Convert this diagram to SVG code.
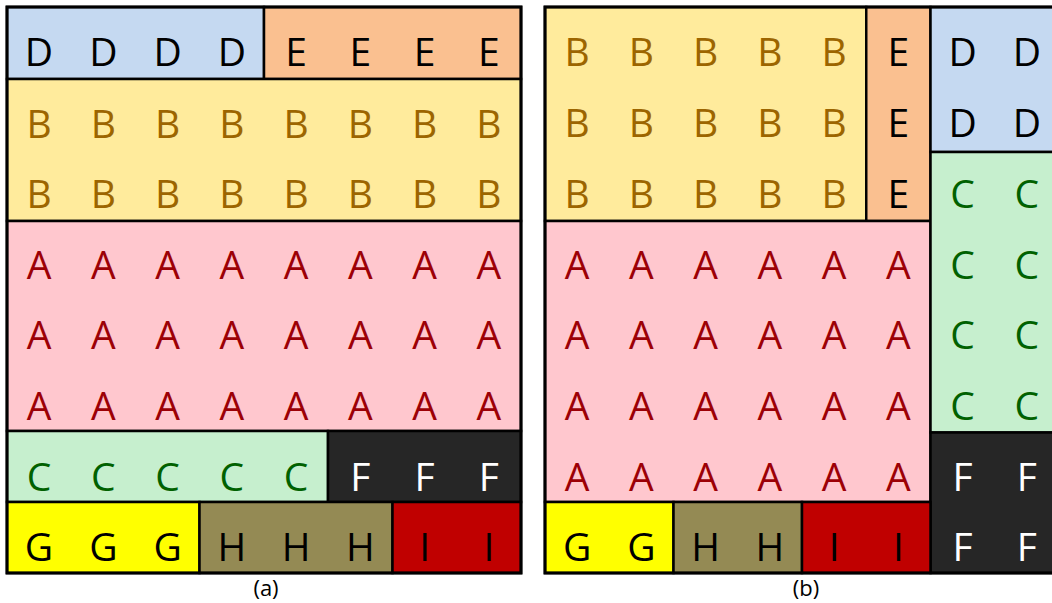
<svg xmlns="http://www.w3.org/2000/svg" width="1052" height="603" viewBox="0 0 1052 603">
<style>
rect{stroke:#000;stroke-width:2.5}
rect.bg{stroke:none;fill:#fff}
text{font-family:"Open Sans","Noto Sans",sans-serif;font-size:39px;text-anchor:middle}
.cap{font-size:22px;fill:#000}
.d{fill:#C5D9F1}.e{fill:#FAC090}.b{fill:#FFEB9C}.a{fill:#FFC7CE}.c{fill:#C6EFCE}.f{fill:#262626}.g{fill:#FFFF00}.h{fill:#948A54}.i{fill:#C00000}
.tk{fill:#000}.tb{fill:#9C6500}.ta{fill:#9C0006}.tc{fill:#006100}.tw{fill:#fff}
.frame{fill:none;stroke-width:3}
</style>
<rect class="bg" width="1052" height="603"/>
<g id="panel-a">
<g id="a-D"><rect class="d" x="7" y="7" width="257" height="72"/>
<text class="tk" y="66"><tspan x="39">D</tspan><tspan x="103.4">D</tspan><tspan x="167.6">D</tspan><tspan x="231.9">D</tspan></text></g>
<g id="a-E"><rect class="e" x="264" y="7" width="257" height="72"/>
<text class="tk" y="66"><tspan x="296.1">E</tspan><tspan x="360.4">E</tspan><tspan x="424.6">E</tspan><tspan x="488.9">E</tspan></text></g>
<g id="a-B"><rect class="b" x="7" y="79" width="514" height="142"/>
<text class="tb" y="137.5"><tspan x="39">B</tspan><tspan x="103.4">B</tspan><tspan x="167.6">B</tspan><tspan x="231.9">B</tspan><tspan x="296.1">B</tspan><tspan x="360.4">B</tspan><tspan x="424.6">B</tspan><tspan x="488.9">B</tspan></text>
<text class="tb" y="208"><tspan x="39">B</tspan><tspan x="103.4">B</tspan><tspan x="167.6">B</tspan><tspan x="231.9">B</tspan><tspan x="296.1">B</tspan><tspan x="360.4">B</tspan><tspan x="424.6">B</tspan><tspan x="488.9">B</tspan></text></g>
<g id="a-A"><rect class="a" x="7" y="221" width="514" height="210"/>
<text class="ta" y="278.5"><tspan x="39">A</tspan><tspan x="103.4">A</tspan><tspan x="167.6">A</tspan><tspan x="231.9">A</tspan><tspan x="296.1">A</tspan><tspan x="360.4">A</tspan><tspan x="424.6">A</tspan><tspan x="488.9">A</tspan></text>
<text class="ta" y="349"><tspan x="39">A</tspan><tspan x="103.4">A</tspan><tspan x="167.6">A</tspan><tspan x="231.9">A</tspan><tspan x="296.1">A</tspan><tspan x="360.4">A</tspan><tspan x="424.6">A</tspan><tspan x="488.9">A</tspan></text>
<text class="ta" y="420"><tspan x="39">A</tspan><tspan x="103.4">A</tspan><tspan x="167.6">A</tspan><tspan x="231.9">A</tspan><tspan x="296.1">A</tspan><tspan x="360.4">A</tspan><tspan x="424.6">A</tspan><tspan x="488.9">A</tspan></text></g>
<g id="a-C"><rect class="c" x="7" y="431" width="321" height="71"/>
<text class="tc" y="490.5"><tspan x="39">C</tspan><tspan x="103.4">C</tspan><tspan x="167.6">C</tspan><tspan x="231.9">C</tspan><tspan x="296.1">C</tspan></text></g>
<g id="a-F"><rect class="f" x="328" y="431" width="193" height="71"/>
<text class="tw" y="490.5"><tspan x="360.4">F</tspan><tspan x="424.6">F</tspan><tspan x="488.9">F</tspan></text></g>
<g id="a-G"><rect class="g" x="7" y="502" width="192.5" height="71"/>
<text class="tk" y="561"><tspan x="39">G</tspan><tspan x="103.4">G</tspan><tspan x="167.6">G</tspan></text></g>
<g id="a-H"><rect class="h" x="199.5" y="502" width="193" height="71"/>
<text class="tk" y="561"><tspan x="231.9">H</tspan><tspan x="296.1">H</tspan><tspan x="360.4">H</tspan></text></g>
<g id="a-I"><rect class="i" x="392.5" y="502" width="128.5" height="71"/>
<text class="tk" y="561"><tspan x="424.6">I</tspan><tspan x="488.9">I</tspan></text></g>
<rect class="frame" x="7" y="7" width="514" height="566"/>
<text class="cap" x="266" y="596">(a)</text>
</g>
<g id="panel-b">
<g id="b-B"><rect class="b" x="545" y="7" width="321.25" height="214"/>
<text class="tb" y="66"><tspan x="577.1">B</tspan><tspan x="641.4">B</tspan><tspan x="705.6">B</tspan><tspan x="769.9">B</tspan><tspan x="834.1">B</tspan></text>
<text class="tb" y="137"><tspan x="577.1">B</tspan><tspan x="641.4">B</tspan><tspan x="705.6">B</tspan><tspan x="769.9">B</tspan><tspan x="834.1">B</tspan></text>
<text class="tb" y="208"><tspan x="577.1">B</tspan><tspan x="641.4">B</tspan><tspan x="705.6">B</tspan><tspan x="769.9">B</tspan><tspan x="834.1">B</tspan></text></g>
<g id="b-E"><rect class="e" x="866.25" y="7" width="64.25" height="214"/>
<text class="tk" x="898.4" y="66">E</text><text class="tk" x="898.4" y="137">E</text><text class="tk" x="898.4" y="208">E</text></g>
<g id="b-D"><rect class="d" x="930.5" y="7" width="128.5" height="145"/>
<text class="tk" y="66"><tspan x="962.6">D</tspan><tspan x="1026.9">D</tspan></text>
<text class="tk" y="137"><tspan x="962.6">D</tspan><tspan x="1026.9">D</tspan></text></g>
<g id="b-A"><rect class="a" x="545" y="221" width="385.5" height="281"/>
<text class="ta" y="278.5"><tspan x="577.1">A</tspan><tspan x="641.4">A</tspan><tspan x="705.6">A</tspan><tspan x="769.9">A</tspan><tspan x="834.1">A</tspan><tspan x="898.4">A</tspan></text>
<text class="ta" y="349"><tspan x="577.1">A</tspan><tspan x="641.4">A</tspan><tspan x="705.6">A</tspan><tspan x="769.9">A</tspan><tspan x="834.1">A</tspan><tspan x="898.4">A</tspan></text>
<text class="ta" y="420"><tspan x="577.1">A</tspan><tspan x="641.4">A</tspan><tspan x="705.6">A</tspan><tspan x="769.9">A</tspan><tspan x="834.1">A</tspan><tspan x="898.4">A</tspan></text>
<text class="ta" y="490.5"><tspan x="577.1">A</tspan><tspan x="641.4">A</tspan><tspan x="705.6">A</tspan><tspan x="769.9">A</tspan><tspan x="834.1">A</tspan><tspan x="898.4">A</tspan></text></g>
<g id="b-C"><rect class="c" x="930.5" y="152" width="128.5" height="280.5"/>
<text class="tc" y="208"><tspan x="962.6">C</tspan><tspan x="1026.9">C</tspan></text>
<text class="tc" y="278.5"><tspan x="962.6">C</tspan><tspan x="1026.9">C</tspan></text>
<text class="tc" y="349"><tspan x="962.6">C</tspan><tspan x="1026.9">C</tspan></text>
<text class="tc" y="420"><tspan x="962.6">C</tspan><tspan x="1026.9">C</tspan></text></g>
<g id="b-F"><rect class="f" x="930.5" y="432.5" width="128.5" height="140.5"/>
<text class="tw" y="490.5"><tspan x="962.6">F</tspan><tspan x="1026.9">F</tspan></text>
<text class="tw" y="561"><tspan x="962.6">F</tspan><tspan x="1026.9">F</tspan></text></g>
<g id="b-G"><rect class="g" x="545" y="502" width="128.5" height="71"/>
<text class="tk" y="561"><tspan x="577.1">G</tspan><tspan x="641.4">G</tspan></text></g>
<g id="b-H"><rect class="h" x="673.5" y="502" width="128.5" height="71"/>
<text class="tk" y="561"><tspan x="705.6">H</tspan><tspan x="769.9">H</tspan></text></g>
<g id="b-I"><rect class="i" x="802" y="502" width="128.5" height="71"/>
<text class="tk" y="561"><tspan x="834.1">I</tspan><tspan x="898.4">I</tspan></text></g>
<rect class="frame" x="545" y="7" width="514" height="566"/>
<text class="cap" x="806" y="596">(b)</text>
</g>
</svg>
